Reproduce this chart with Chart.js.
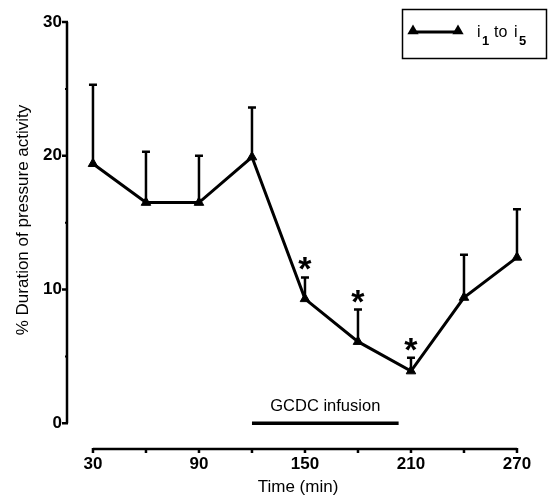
<!DOCTYPE html>
<html>
<head>
<meta charset="utf-8">
<script src="https://cdn.jsdelivr.net/npm/chart.js@4/dist/chart.umd.min.js"></script>
<style>
  body { margin: 0; background: #fff; }
  canvas { display: block; }
</style>
</head>
<body>
<canvas id="pressureChart" width="549" height="498"></canvas>
<script>
// mean % duration of pressure activity, with upper SEM only
const timeMin = [30, 60, 90, 120, 150, 180, 210, 240, 270];
const durationMean = [19.4, 16.5, 16.5, 19.9, 9.3, 6.1, 3.9, 9.4, 12.4];
const durationSem = [5.9, 3.8, 3.5, 3.7, 1.6, 2.4, 1.0, 3.2, 3.6];
const significant = [false, false, false, false, true, true, true, false, false];

const xTickMarks = [30, 60, 90, 120, 150, 180, 210, 240, 270];
const xTickLabels = [30, 90, 150, 210, 270];
const yTickLabels = [0, 10, 20, 30];
const yMinorTicks = [5, 15, 25];
const infusionWindow = [120, 203];

const FONT = '"Liberation Sans", Arial, Helvetica, sans-serif';

function triangle(ctx, cx, cy, r) {
    ctx.beginPath();
    ctx.moveTo(cx, cy - r);
    ctx.lineTo(cx + r * 0.866, cy + r * 0.5);
    ctx.lineTo(cx - r * 0.866, cy + r * 0.5);
    ctx.closePath();
    ctx.fill();
}

// error bars go under the line
const errorBars = {
    id: 'errorBars',
    beforeDatasetsDraw(chart) {
        const { ctx, scales: { x, y } } = chart;
        ctx.save();
        ctx.strokeStyle = '#000';
        ctx.lineWidth = 2.5;
        timeMin.forEach((t, i) => {
            const px = x.getPixelForValue(t);
            const py = y.getPixelForValue(durationMean[i]);
            const top = y.getPixelForValue(durationMean[i] + durationSem[i]);
            ctx.beginPath();
            ctx.moveTo(px, py);
            ctx.lineTo(px, top);
            ctx.moveTo(px - 4, top);
            ctx.lineTo(px + 4, top);
            ctx.stroke();
        });
        ctx.restore();
    }
};

// axes, asterisks, infusion bar, legend box
const decorations = {
    id: 'decorations',
    afterDraw(chart) {
        const { ctx, scales: { x, y } } = chart;
        ctx.save();
        ctx.strokeStyle = '#000';
        ctx.fillStyle = '#000';

        // y axis
        const ax = chart.chartArea.left;
        ctx.lineWidth = 2.5;
        ctx.beginPath();
        ctx.moveTo(ax, y.getPixelForValue(30));
        ctx.lineTo(ax, y.getPixelForValue(0));
        yTickLabels.forEach(v => {
            const py = y.getPixelForValue(v);
            ctx.moveTo(ax + 1, py);
            ctx.lineTo(ax - 5, py);
        });
        ctx.stroke();
        ctx.lineWidth = 2;
        ctx.beginPath();
        yMinorTicks.forEach(v => {
            const py = y.getPixelForValue(v);
            ctx.moveTo(ax, py);
            ctx.lineTo(ax - 2, py);
        });
        ctx.stroke();

        // x axis
        const ay = chart.chartArea.bottom - 1;
        ctx.lineWidth = 2.5;
        ctx.beginPath();
        ctx.moveTo(x.getPixelForValue(30), ay);
        ctx.lineTo(x.getPixelForValue(270), ay);
        xTickMarks.forEach(t => {
            const px = x.getPixelForValue(t);
            ctx.moveTo(px, ay - 1);
            ctx.lineTo(px, ay + 4);
        });
        ctx.stroke();

        // y title
        ctx.save();
        ctx.translate(28, 220);
        ctx.rotate(-Math.PI / 2);
        ctx.font = '17px ' + FONT;
        ctx.textAlign = 'center';
        ctx.textBaseline = 'alphabetic';
        ctx.fillText('% Duration of pressure activity', 0, 0);
        ctx.restore();

        // significance marks
        ctx.font = 'bold 34px ' + FONT;
        ctx.textAlign = 'center';
        ctx.textBaseline = 'alphabetic';
        timeMin.forEach((t, i) => {
            if (!significant[i]) return;
            const px = x.getPixelForValue(t);
            const top = y.getPixelForValue(durationMean[i] + durationSem[i]);
            ctx.fillText('*', px, top + 3);
        });

        // GCDC infusion period
        const x0 = x.getPixelForValue(infusionWindow[0]);
        const x1 = x.getPixelForValue(infusionWindow[1]);
        const by = y.getPixelForValue(0);
        ctx.lineWidth = 3.5;
        ctx.beginPath();
        ctx.moveTo(x0, by);
        ctx.lineTo(x1, by);
        ctx.stroke();
        ctx.font = '16.5px ' + FONT;
        ctx.fillText('GCDC infusion', (x0 + x1) / 2, by - 12);

        // legend
        ctx.lineWidth = 1.5;
        ctx.strokeRect(402.5, 9.5, 144, 49);
        ctx.lineWidth = 3;
        ctx.beginPath();
        ctx.moveTo(412, 32);
        ctx.lineTo(459, 32);
        ctx.stroke();
        triangle(ctx, 413, 31, 6.5);
        triangle(ctx, 458, 31, 6.5);
        ctx.textAlign = 'left';
        ctx.font = '16px ' + FONT;
        ctx.fillText('i', 477, 37);
        ctx.fillText('to', 494, 37);
        ctx.fillText('i', 514, 37);
        ctx.font = 'bold 13px ' + FONT;
        ctx.fillText('1', 482, 45);
        ctx.fillText('5', 519, 45);

        ctx.restore();
    }
};

new Chart(document.getElementById('pressureChart'), {
    type: 'line',
    data: {
        datasets: [{
            label: 'i1 to i5',
            data: timeMin.map((t, i) => ({ x: t, y: durationMean[i] })),
            borderColor: '#000',
            backgroundColor: '#000',
            borderWidth: 3,
            tension: 0,
            pointStyle: 'triangle',
            pointRadius: 5.5,
            pointBackgroundColor: '#000',
            pointBorderColor: '#000',
            pointBorderWidth: 1
        }]
    },
    options: {
        responsive: false,
        animation: false,
        layout: { padding: { top: 22, right: 20, bottom: 0, left: 0 } },
        plugins: {
            legend: { display: false },
            tooltip: { enabled: false }
        },
        scales: {
            x: {
                type: 'linear',
                min: 15.3,
                max: 276.8,
                afterBuildTicks: s => { s.ticks = xTickLabels.map(v => ({ value: v })); },
                afterFit: s => { s.height = 48; },
                grid: { display: false, drawTicks: false },
                border: { display: false },
                ticks: {
                    color: '#000',
                    padding: 4,
                    maxRotation: 0,
                    font: { family: FONT, size: 17, weight: 'bold' }
                },
                title: {
                    display: true,
                    text: 'Time (min)',
                    color: '#000',
                    padding: 0,
                    font: { family: FONT, size: 17 }
                }
            },
            y: {
                min: -2,
                max: 30,
                afterBuildTicks: s => { s.ticks = yTickLabels.map(v => ({ value: v })); },
                afterFit: s => { s.width = 67; },
                grid: { display: false, drawTicks: false },
                border: { display: false },
                ticks: {
                    color: '#000',
                    padding: 5,
                    font: { family: FONT, size: 17, weight: 'bold' }
                }
            }
        }
    },
    plugins: [errorBars, decorations]
});
</script>
</body>
</html>
